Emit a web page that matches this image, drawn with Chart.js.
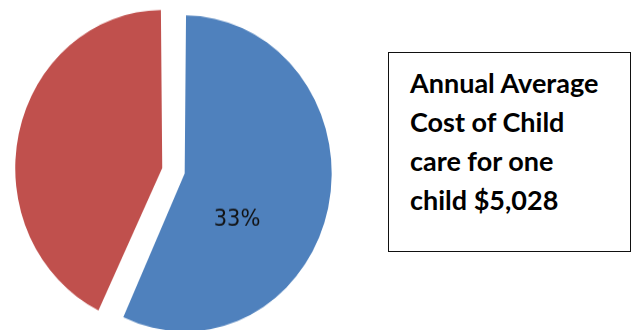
<!DOCTYPE html>
<html>
<head>
<meta charset="utf-8">
<script src="https://cdn.jsdelivr.net/npm/chart.js@4.4.1/dist/chart.umd.min.js"></script>
<style>
  html, body { margin: 0; padding: 0; background: #fff; width: 633px; height: 330px; overflow: hidden; }
  /* the original pie is a little taller than wide */
  #pieWrap { position: absolute; left: 6.3px; top: 0.5px; width: 341px; height: 341px;
             transform: scaleY(1.075); transform-origin: 50% 50%; }
  #note { position: absolute; left: 388px; top: 52px; width: 243px; height: 200px;
          box-sizing: border-box; border: 1px solid #111; padding: 10px 0 0 21px;
          font-family: Lato, "Liberation Sans", sans-serif; font-weight: bold;
          font-size: 27px; line-height: 39px; color: #000; }
</style>
</head>
<body>
<div id="pieWrap"><canvas id="myChart" width="341" height="341"></canvas></div>
<div id="note">Annual Average<br>Cost of Child<br>care for one<br>child $5,028</div>

<script>
// data
const categories = ["Child care", "Other"];
const shares = [57, 43];
const sliceLabels = ["33%", ""];
const sliceColors = ["#4F81BD", "#C0504D"];

// chart.js v4 moves an arc by offset/4 and grows its radius by
// that times (1 - sin(min(PI, circumference))), so split the gap
// so both slices end up the same size
const pieRadius = 147;
const gap = 23;
const total = shares.reduce((a, b) => a + b, 0);
const grow = shares.map(v => 1 - Math.sin(Math.min(Math.PI, v / total * 2 * Math.PI)));
const k = gap / (1 / grow[0] + 1 / grow[1]);
const shifts = grow.map(g => k / g);
const baseRadius = pieRadius - k;

// draws the text label inside a slice
const sliceText = {
  id: "sliceText",
  afterDatasetsDraw(chart, args, opts) {
    const ctx = chart.ctx;
    const meta = chart.getDatasetMeta(0);
    meta.data.forEach((arc, i) => {
      const txt = sliceLabels[i];
      if (!txt) return;
      const p = arc.getProps(["x", "y", "startAngle", "endAngle", "outerRadius"], true);
      const off = (arc.options.offset || 0) / 4;
      const mid = (p.startAngle + p.endAngle) / 2;
      const cx = p.x + Math.cos(mid) * off;
      const cy = p.y + Math.sin(mid) * off;
      const a = p.startAngle + (p.endAngle - p.startAngle) * opts.angleFrac;
      const r = pieRadius * opts.radiusFrac;
      ctx.save();
      ctx.font = opts.font;
      ctx.fillStyle = opts.color;
      ctx.textAlign = "center";
      ctx.textBaseline = "middle";
      ctx.fillText(txt, cx + Math.cos(a) * r, cy + Math.sin(a) * r);
      ctx.restore();
    });
  }
};

var ctx = document.getElementById("myChart").getContext("2d");
var myChart = new Chart(ctx, {
  type: "pie",
  data: {
    labels: categories,
    datasets: [{
      data: shares,
      backgroundColor: sliceColors,
      borderWidth: 0,
      offset: shifts.map(s => s * 4)
    }]
  },
  options: {
    responsive: false,
    animation: false,
    radius: baseRadius,
    events: [],
    plugins: {
      legend: { display: false },
      tooltip: { enabled: false },
      sliceText: { angleFrac: 0.63, radiusFrac: 0.46, font: "21px 'DejaVu Sans'", color: "#111" }
    }
  },
  plugins: [sliceText]
});
</script>
</body>
</html>
